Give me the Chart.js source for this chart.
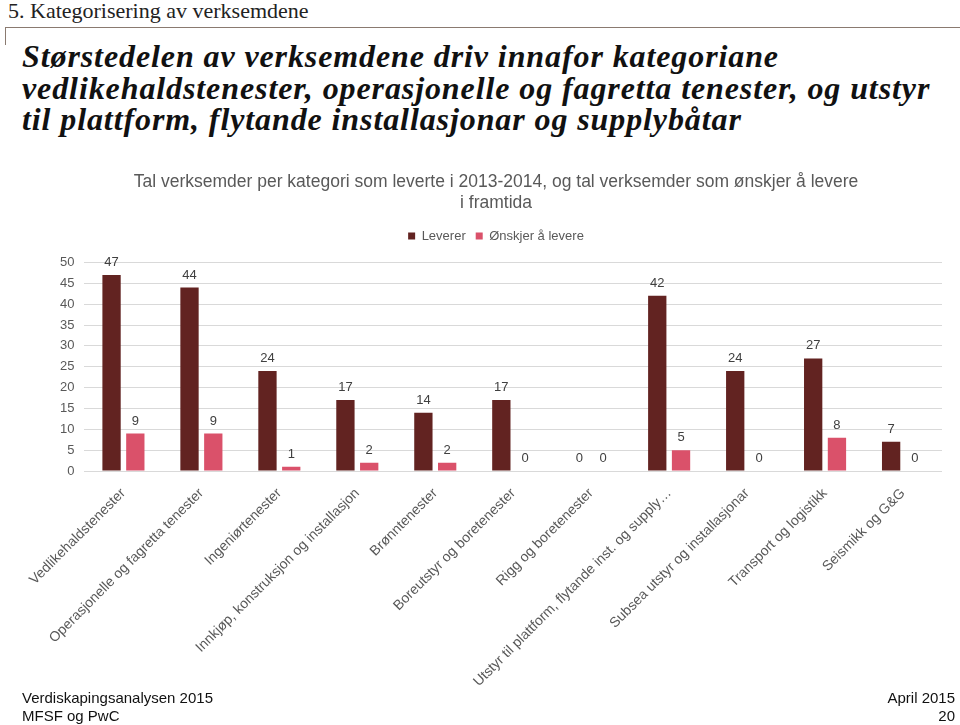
<!DOCTYPE html>
<html>
<head>
<meta charset="utf-8">
<script src="https://cdn.jsdelivr.net/npm/chart.js@4.4.1/dist/chart.umd.min.js"></script>
<style>
  html, body { margin: 0; padding: 0; background: #fff; }
  body { width: 960px; height: 725px; position: relative; overflow: hidden; }
  #section { position: absolute; left: 8px; top: -2px; font: 22px "Liberation Serif", serif; color: #222; }
  #rule { position: absolute; left: 5px; top: 27px; width: 955px; height: 1px; background: #8a7a70; }
  #tick { position: absolute; left: 5px; top: 27px; width: 1px; height: 18px; background: #8a7a70; }
  #headline { position: absolute; left: 22px; top: 41px; font: italic bold 32px/31.5px "Liberation Serif", serif; letter-spacing: 0.9px; color: #111; }
  #wrap { position: absolute; left: 0; top: 160px; width: 960px; height: 536px; }
  .foot { position: absolute; font: 15px "Liberation Sans", Arial, sans-serif; color: #111; line-height: 18px; }
</style>
</head>
<body>
<div id="section">5. Kategorisering av verksemdene</div>
<div id="rule"></div>
<div id="tick"></div>
<div id="headline">Størstedelen av verksemdene driv innafor kategoriane<br>vedlikehaldstenester, operasjonelle og fagretta tenester, og utstyr<br>til plattform, flytande installasjonar og supplybåtar</div>
<div id="wrap"><canvas id="chart"></canvas></div>
<div class="foot" style="left:22px; top:689px;">Verdiskapingsanalysen 2015<br>MFSF og PwC</div>
<div class="foot" style="right:5px; top:689px; text-align:right;">April 2015<br>20</div>
<script>
// categories and values
const categories = [
    'Vedlikehaldstenester',
    'Operasjonelle og fagretta tenester',
    'Ingeniørtenester',
    'Innkjøp, konstruksjon og installasjon',
    'Brønntenester',
    'Boreutstyr og boretenester',
    'Rigg og boretenester',
    'Utstyr til plattform, flytande inst. og supply…',
    'Subsea utstyr og installasjonar',
    'Transport og logistikk',
    'Seismikk og G&G'
];
const leverer = [47, 44, 24, 17, 14, 17, 0, 42, 24, 27, 7];
const onskjer = [9, 9, 1, 2, 2, 0, 0, 5, 0, 8, 0];
const yTicks = [0, 5, 10, 15, 20, 25, 30, 35, 40, 45, 50];

const labelColor = '#595959';

// draw the value above each bar
const valueLabels = {
    id: 'valueLabels',
    afterDatasetsDraw(chart) {
        const ctx = chart.ctx;
        ctx.save();
        ctx.font = '13px "Liberation Sans", Arial, sans-serif';
        ctx.fillStyle = '#404040';
        ctx.textAlign = 'center';
        ctx.textBaseline = 'bottom';
        chart.data.datasets.forEach((ds, i) => {
            chart.getDatasetMeta(i).data.forEach((bar, j) => {
                ctx.fillText(ds.data[j], bar.x, bar.y - 6);
            });
        });
        ctx.restore();
    }
};

// a bit more room under the legend
const legendGap = {
    id: 'legendGap',
    beforeInit(chart) {
        const fit = chart.legend.fit;
        chart.legend.fit = function () {
            fit.bind(chart.legend)();
            this.height += 10;
        };
    }
};

const ctx = document.getElementById('chart').getContext('2d');
new Chart(ctx, {
    type: 'bar',
    data: {
        labels: categories,
        datasets: [{
            label: 'Leverer',
            data: leverer,
            backgroundColor: '#622321',
            categoryPercentage: 0.61,
            barPercentage: 0.77
        }, {
            label: 'Ønskjer å levere',
            data: onskjer,
            backgroundColor: '#DA516A',
            categoryPercentage: 0.61,
            barPercentage: 0.77
        }]
    },
    options: {
        responsive: true,
        maintainAspectRatio: false,
        animation: false,
        layout: { padding: { left: 50, right: 18, top: 0, bottom: 0 } },
        plugins: {
            title: {
                display: true,
                text: ['Tal verksemder per kategori som leverte i 2013-2014, og tal verksemder som ønskjer å levere', 'i framtida'],
                color: labelColor,
                font: { family: '"Liberation Sans", Arial, sans-serif', size: 17.5, weight: 'normal', lineHeight: 1.2 },
                padding: { top: 11.5, bottom: 6 }
            },
            legend: {
                labels: {
                    color: labelColor,
                    font: { family: '"Liberation Sans", Arial, sans-serif', size: 13 },
                    boxWidth: 7,
                    boxHeight: 7,
                    padding: 10
                }
            },
            tooltip: { enabled: false }
        },
        scales: {
            x: {
                grid: { display: false },
                border: { display: false },
                ticks: {
                    color: labelColor,
                    font: { family: '"Liberation Sans", Arial, sans-serif', size: 14 },
                    minRotation: 45,
                    maxRotation: 45,
                    autoSkip: false,
                    padding: 6
                }
            },
            y: {
                min: 0,
                max: 50,
                afterBuildTicks(axis) { axis.ticks = yTicks.map(v => ({ value: v })); },
                grid: { color: '#d9d9d9', drawTicks: false },
                border: { display: false },
                ticks: {
                    color: labelColor,
                    font: { family: '"Liberation Sans", Arial, sans-serif', size: 13 },
                    padding: 10
                }
            }
        }
    },
    plugins: [valueLabels, legendGap]
});
</script>
</body>
</html>
